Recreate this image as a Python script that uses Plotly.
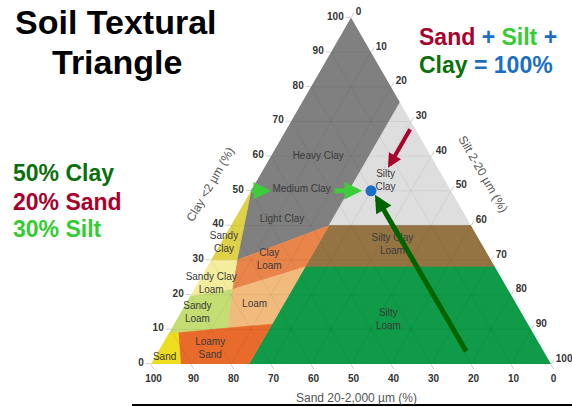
import plotly.graph_objects as go

# ---------------- data (ternary: clay %, silt %; sand = 100 - clay - silt) ----------------
clay_region_clay = [100, 75.5, 40, 30, 50]
clay_region_silt = [0, 24.5, 24.5, 6.5, 0]
silty_clay_clay = [75.5, 40, 40]
silty_clay_silt = [24.5, 60, 24.5]
silty_clay_loam_clay = [40, 40, 28, 28]
silty_clay_loam_silt = [24.5, 60, 72, 24.5]
silty_loam_clay = [28, 28, 0, 0]
silty_loam_silt = [24.5, 72, 100, 24.5]
sandy_clay_clay = [50, 30, 30]
sandy_clay_silt = [0, 6.5, 0]
clay_loam_clay = [30, 40, 28, 21.5]
clay_loam_silt = [6.5, 24.5, 24.5, 9.5]
sandy_clay_loam_clay = [30, 30, 21.5, 19.5]
sandy_clay_loam_silt = [0, 6.5, 9.5, 0]
loam_clay = [21.5, 28, 11.5, 10.4]
loam_silt = [9.5, 24.5, 24.5, 14]
sandy_loam_clay = [19.5, 21.5, 10.4, 9, 9]
sandy_loam_silt = [0, 9.5, 14, 2.3, 0]
loamy_sand_clay = [9, 10.4, 11.5, 0, 0]
loamy_sand_silt = [2.3, 14, 24.5, 24.5, 7.4]
sand_clay = [0, 9, 9, 0]
sand_silt = [0, 0, 2.3, 7.4]

label_names = ["Heavy Clay", "Medium Clay", "Light Clay", "Silty<br>Clay",
               "Silty Clay<br>Loam", "Silty<br>Loam", "Sandy<br>Clay", "Clay<br>Loam",
               "Sandy Clay<br>Loam", "Loam", "Sandy<br>Loam", "Loamy<br>Sand", "Sand"]
label_clay = [60, 50.3, 41.7, 52.7, 34.3, 12.7, 34.9, 29.9, 23.1, 17.2, 14.8, 4.4, 1.8]
label_silt = [11.8, 12.5, 11.9, 32.3, 43.2, 53, 0.8, 14.6, 3.5, 17.3, 4.2, 12.6, 2.5]

sample_clay = 50
sample_sand = 20
sample_silt = 30

tick_values = [0, 10, 20, 30, 40, 50, 60, 70, 80, 90, 100]

# ---------------- layout geometry ----------------
W_PX, H_PX = 572, 407
X0, X1 = 151, 551
TRI_W = X1 - X0
TRI_H = TRI_W * 3 ** 0.5 / 2
YBASE = 364
YAPEX = YBASE - TRI_H


def px(x):
    return x / W_PX


def py(y):
    return 1 - y / H_PX


def tern_px(clay, silt):
    return X0 + TRI_W * (silt + clay / 2) / 100, YBASE - TRI_H * clay / 100


fig = go.Figure()


def add_region(clay, silt, color):
    c = clay + [clay[0]]
    s = silt + [silt[0]]
    fig.add_trace(go.Scatterternary(
        a=c, c=s, b=[100 - a_ - s_ for a_, s_ in zip(c, s)],
        mode="lines", fill="toself", fillcolor=color,
        line=dict(color=color, width=0.6), hoverinfo="skip"))


add_region(clay_region_clay, clay_region_silt, "#808080")
add_region(silty_clay_clay, silty_clay_silt, "#dedede")
add_region(silty_clay_loam_clay, silty_clay_loam_silt, "#957444")
add_region(silty_loam_clay, silty_loam_silt, "#0f9b48")
add_region(sandy_clay_clay, sandy_clay_silt, "#e0d246")
add_region(clay_loam_clay, clay_loam_silt, "#e9844b")
add_region(sandy_clay_loam_clay, sandy_clay_loam_silt, "#f4ed9e")
add_region(loam_clay, loam_silt, "#f2bb7e")
add_region(sandy_loam_clay, sandy_loam_silt, "#c5de74")
add_region(loamy_sand_clay, loamy_sand_silt, "#e96b2b")
add_region(sand_clay, sand_silt, "#eedc1e")

# faint grid over the regions
ga, gb, gc = [], [], []
for v in tick_values[1:-1]:
    ga += [v, v, None]; gb += [100 - v, 0, None]; gc += [0, 100 - v, None]
    gc += [v, v, None]; ga += [0, 100 - v, None]; gb += [100 - v, 0, None]
    gb += [v, v, None]; ga += [0, 100 - v, None]; gc += [100 - v, 0, None]
fig.add_trace(go.Scatterternary(a=ga, b=gb, c=gc, mode="lines",
                                line=dict(color="rgba(0,0,0,0.06)", width=1),
                                hoverinfo="skip"))

# class labels
fig.add_trace(go.Scatterternary(
    a=label_clay, c=label_silt,
    b=[100 - a_ - s_ for a_, s_ in zip(label_clay, label_silt)],
    mode="text", text=label_names, cliponaxis=False,
    textfont=dict(family="Arial", size=10, color="#3a3a3a"), hoverinfo="skip"))

# sample point
fig.add_trace(go.Scatterternary(
    a=[sample_clay], b=[sample_sand], c=[sample_silt], mode="markers",
    marker=dict(size=11, color="#1a6fc8"), hoverinfo="skip"))

axis_common = dict(
    title=dict(text=""), min=0, tickmode="array", tickvals=tick_values,
    ticks="outside", ticklen=5, tickcolor="#d0d0d0",
    tickfont=dict(family="Arial", size=10, color="#333", weight="bold"),
    showgrid=False, showline=False)

fig.update_layout(
    width=W_PX, height=H_PX,
    margin=dict(l=0, r=0, t=0, b=0),
    paper_bgcolor="white", showlegend=False,
    ternary=dict(
        sum=100,
        domain=dict(x=[px(X0), px(X1)], y=[py(YBASE), py(YAPEX)]),
        bgcolor="white",
        aaxis=axis_common, baxis=axis_common, caxis=axis_common))

ann = []
title_font = dict(family="Arial", size=34, color="black", weight="bold")
ann.append(dict(text="Soil Textural", x=px(116), y=py(22), font=title_font))
ann.append(dict(text="Triangle", x=px(117), y=py(62), font=title_font))

side_font = dict(family="Arial", size=23, weight="bold")
ann.append(dict(text="50% Clay", x=px(11), y=py(173), xanchor="left",
                font=dict(side_font, color="#0b700b")))
ann.append(dict(text="20% Sand", x=px(11), y=py(202), xanchor="left",
                font=dict(side_font, color="#a8002a")))
ann.append(dict(text="30% Silt", x=px(11), y=py(229), xanchor="left",
                font=dict(side_font, color="#33cc33")))

eq_font = dict(family="Arial", size=23, weight="bold")
ann.append(dict(text="<span style='color:#a8002a'>Sand</span> "
                     "<span style='color:#1a6fc4'>+</span> "
                     "<span style='color:#33cc33'>Silt</span> "
                     "<span style='color:#1a6fc4'>+</span>",
                x=px(417), y=py(37), xanchor="left", font=eq_font))
ann.append(dict(text="<span style='color:#0b700b'>Clay</span> "
                     "<span style='color:#1a6fc4'>= 100%</span>",
                x=px(417), y=py(65), xanchor="left", font=eq_font))

axis_title_font = dict(family="Arial", size=12, color="#555")
ann.append(dict(text="Clay &lt;2 µm (%)", x=px(210), y=py(185), textangle=-60,
                font=axis_title_font))
ann.append(dict(text="Silt 2-20 µm (%)", x=px(483), y=py(174), textangle=60,
                font=axis_title_font))
ann.append(dict(text="Sand 20-2,000 µm (%)", x=px(356), y=py(398),
                font=axis_title_font))

for a in ann:
    a.update(xref="paper", yref="paper", showarrow=False)
    a.setdefault("xanchor", "center")
    a.setdefault("yanchor", "middle")

# arrows pointing at the sample and the class
sx, sy = tern_px(sample_clay, sample_silt)
mx, my = tern_px(50, 5)
arrows = [
    dict(tip=(sx + 4, sy + 4), tail=(sx + 96, sy + 162), color="#006400", width=5),
    dict(tip=(sx + 17, sy - 23), tail=(sx + 40, sy - 63), color="#a8002a", width=4),
    dict(tip=(sx - 9, sy), tail=(sx - 38, sy), color="#3ccc3c", width=5),
    dict(tip=(mx, my), tail=(mx - 21, my), color="#3ccc3c", width=5),
]
for ar in arrows:
    ann.append(dict(xref="paper", yref="paper", x=px(ar["tip"][0]), y=py(ar["tip"][1]),
                    ax=ar["tail"][0] - ar["tip"][0], ay=ar["tail"][1] - ar["tip"][1],
                    showarrow=True, arrowhead=2, arrowsize=0.7, arrowwidth=ar["width"],
                    arrowcolor=ar["color"], standoff=0, text=""))

fig.update_layout(annotations=ann)
fig.add_shape(type="line", xref="paper", yref="paper", x0=px(132), x1=1,
              y0=py(405), y1=py(405), line=dict(color="black", width=2))

fig.write_html("out.html",
               config={"displayModeBar": False},
               post_script="document.body.style.margin='0px';"
                           "document.body.style.overflow='hidden';")
